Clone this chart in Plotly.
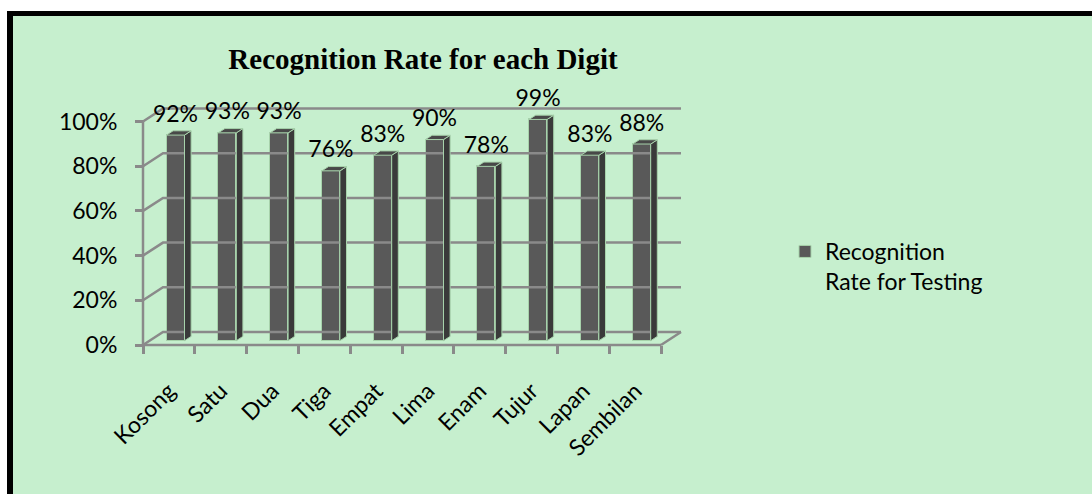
import plotly.graph_objects as go

# ---------------- data ----------------
categories = ["Kosong", "Satu", "Dua", "Tiga", "Empat", "Lima", "Enam", "Tujur", "Lapan", "Sembilan"]
rates = [92, 93, 93, 76, 83, 90, 78, 99, 83, 88]
rate_labels = ["92%", "93%", "93%", "76%", "83%", "90%", "78%", "99%", "83%", "88%"]
ytick_vals = [0, 20, 40, 60, 80, 100]
ytick_text = ["0%", "20%", "40%", "60%", "80%", "100%"]
series_name = "Recognition<br>Rate for Testing"
title_text = "Recognition Rate for each Digit"

# ---------------- geometry (pixels) ----------------
W, H = 1092, 494
PX0 = 143.0      # pixel x of front-left axis
UX = 51.8        # pixels per category
PY0 = 345.0      # pixel y of 0%
UY = 2.235       # pixels per percent
PL, PR, PT, PB = 140.0, 700.0, 92.0, 348.0   # plot area box

x_lo = -0.5 - (PX0 - PL) / UX
x_hi = -0.5 + (PR - PX0) / UX
y_lo = -(PB - PY0) / UY
y_hi = (PY0 - PT) / UY

DX = 20.0 / UX   # depth offset in data units
DY = 13.0 / UY
F0 = 0.33        # depth of bar front face
FD = 0.33        # bar depth
BW = 18.0 / UX   # bar width

GRID = "#8a8a8a"
GW = 2.5
FONT = "Lato"
FS = 23
BG = "#C6EFCE"

n = len(categories)
xa = -0.5
xb = n - 0.5

fig = go.Figure()

# back wall gridlines + left wall diagonals + floor
gx, gy = [], []
for v in ytick_vals:
    gx += [xa, xa + DX, xb + DX, None]
    gy += [v, v + DY, v + DY, None]
gx += [xb, xb + DX, None]
gy += [0, DY, None]
fig.add_trace(go.Scatter(x=gx, y=gy, mode="lines", line=dict(color=GRID, width=GW),
                         hoverinfo="skip", showlegend=False))

# front axis lines
fig.add_trace(go.Scatter(x=[xa, xa, None, xa, xb], y=[100, 0, None, 0, 0], mode="lines",
                         line=dict(color=GRID, width=GW), hoverinfo="skip", showlegend=False))

# bar side and top faces
xc = [i + F0 * DX for i in range(n)]
b0 = F0 * DY
sx, sy, tx, ty = [], [], [], []
for c, v in zip(xc, rates):
    xl, xr = c - BW / 2, c + BW / 2
    sx += [xr, xr + FD * DX, xr + FD * DX, xr, xr, None]
    sy += [b0, b0 + FD * DY, b0 + v + FD * DY, b0 + v, b0, None]
    tx += [xl, xr, xr + FD * DX, xl + FD * DX, xl, None]
    ty += [b0 + v, b0 + v, b0 + v + FD * DY, b0 + v + FD * DY, b0 + v, None]
EDGE = "#a7d2ab"
fig.add_trace(go.Scatter(x=sx, y=sy, mode="lines", fill="toself", fillcolor="#3a3a3a",
                         line=dict(color=EDGE, width=1), hoverinfo="skip", showlegend=False))
fig.add_trace(go.Scatter(x=tx, y=ty, mode="lines", fill="toself", fillcolor="#484848",
                         line=dict(color=EDGE, width=1), hoverinfo="skip", showlegend=False))

# data labels
fig.add_trace(go.Scatter(x=xc, y=[v + b0 + FD * DY + 1.5 for v in rates], mode="text",
                         text=rate_labels, textposition="top center",
                         textfont=dict(family=FONT, size=FS, color="black"),
                         cliponaxis=False, hoverinfo="skip", showlegend=False))

# bar front faces
fig.add_trace(go.Bar(x=xc, y=rates, base=[b0] * n, width=BW, name=series_name,
                     marker=dict(color="#595959", line=dict(color=EDGE, width=1))))

pw = PR - PL
ph = PB - PT

def px2x(p):
    return (p - PL) / pw

def py2y(p):
    return (PB - p) / ph

shapes = [
    dict(type="rect", xref="paper", yref="paper", x0=px2x(-20), x1=px2x(7), y0=py2y(520), y1=py2y(-20),
         fillcolor="white", line=dict(width=0), layer="below"),
    dict(type="rect", xref="paper", yref="paper", x0=px2x(-20), x1=px2x(1120), y0=py2y(11), y1=py2y(-20),
         fillcolor="white", line=dict(width=0), layer="below"),
    dict(type="rect", xref="paper", yref="paper", x0=px2x(7), x1=px2x(13), y0=py2y(520), y1=py2y(11),
         fillcolor="black", line=dict(width=0), layer="below"),
    dict(type="rect", xref="paper", yref="paper", x0=px2x(7), x1=px2x(1120), y0=py2y(16), y1=py2y(11),
         fillcolor="black", line=dict(width=0), layer="below"),
]

fig.update_layout(
    width=W, height=H,
    margin=dict(l=PL, r=W - PR, t=PT, b=H - PB, pad=0),
    paper_bgcolor=BG, plot_bgcolor="rgba(0,0,0,0)",
    showlegend=True,
    title=dict(text="<b>" + title_text + "</b>", x=423 / W, xref="container", xanchor="center",
               y=1 - 59 / H, yref="container", yanchor="middle",
               font=dict(family="Liberation Serif", size=29, color="black")),
    legend=dict(x=px2x(785), y=py2y(230), xanchor="left", yanchor="top", valign="top",
                font=dict(family=FONT, size=FS, color="black"), bgcolor="rgba(0,0,0,0)"),
    shapes=shapes,
    xaxis=dict(range=[x_lo, x_hi], showgrid=False, zeroline=False, showline=False,
               tickmode="array", tickvals=list(range(n)), ticktext=categories, ticks="",
               tickangle=-45, ticklabelstandoff=27,
               tickfont=dict(family=FONT, size=FS, color="black"),
               anchor="free", position=(PB - PY0) / ph,
               minor=dict(tickmode="array", tickvals=[i - 0.5 for i in range(n + 1)],
                          ticks="outside", ticklen=8, tickwidth=GW, tickcolor=GRID)),
    yaxis=dict(range=[y_lo, y_hi], showgrid=False, zeroline=False, showline=False,
               tickmode="array", tickvals=ytick_vals, ticktext=ytick_text,
               ticks="outside", ticklen=8, tickwidth=GW, tickcolor=GRID,
               ticklabelstandoff=13,
               tickfont=dict(family=FONT, size=FS, color="black"),
               anchor="free", position=(PX0 - PL) / pw),
    bargap=0,
)

fig.write_html("out.html", config={"displayModeBar": False},
               post_script="document.body.style.margin='0';document.body.style.overflow='hidden';")
